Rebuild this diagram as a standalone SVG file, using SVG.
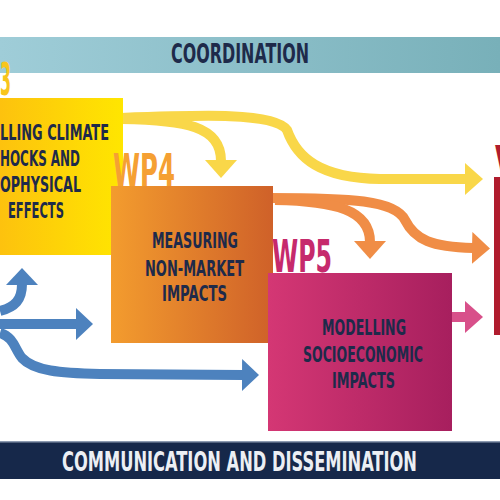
<svg xmlns="http://www.w3.org/2000/svg" width="500" height="500" viewBox="0 0 500 500">
<defs>
<linearGradient id="gCoord" x1="0" x2="1" y1="0" y2="0"><stop offset="0" stop-color="#9fcdd8"/><stop offset="1" stop-color="#78b0b9"/></linearGradient>
<linearGradient id="gWp3" x1="0" x2="1" y1="0" y2="0"><stop offset="0" stop-color="#fdc20e"/><stop offset="1" stop-color="#ffe600"/></linearGradient>
<linearGradient id="gWp4" x1="0" x2="1" y1="0" y2="0"><stop offset="0" stop-color="#f39c2e"/><stop offset="1" stop-color="#cf6129"/></linearGradient>
<linearGradient id="gWp5" x1="0" x2="1" y1="0" y2="0"><stop offset="0" stop-color="#d43774"/><stop offset="1" stop-color="#a71f5e"/></linearGradient>
<marker id="mY" markerUnits="userSpaceOnUse" markerWidth="20" markerHeight="34" refX="1" refY="16" orient="auto"><path d="M0,0 L18,16 L0,32 z" fill="#f9d749"/></marker>
<marker id="mO" markerUnits="userSpaceOnUse" markerWidth="20" markerHeight="34" refX="1" refY="16" orient="auto"><path d="M0,0 L18,16 L0,32 z" fill="#f08d46"/></marker>
<marker id="mP" markerUnits="userSpaceOnUse" markerWidth="20" markerHeight="34" refX="1" refY="16" orient="auto"><path d="M0,0 L18,16 L0,32 z" fill="#d8508a"/></marker>
<marker id="mB" markerUnits="userSpaceOnUse" markerWidth="20" markerHeight="34" refX="1" refY="16" orient="auto"><path d="M0,0 L17,16 L0,32 z" fill="#4d82be"/></marker>
</defs>
<style>
.t{font-family:"DejaVu Sans Condensed","Liberation Sans Narrow","Liberation Sans",sans-serif;font-weight:bold;fill:#1e2a4a}
.lbl{font-family:"DejaVu Sans Condensed","Liberation Sans Narrow","Liberation Sans",sans-serif;font-weight:bold}
.c{fill:none;stroke-width:10;stroke-linecap:butt}
.y{stroke:#f9d749;marker-end:url(#mY)}
.o{stroke:#f08d46;marker-end:url(#mO)}
.p{stroke:#d8508a;marker-end:url(#mP)}
.b{stroke:#4d82be;marker-end:url(#mB)}
</style>
<rect width="500" height="500" fill="#ffffff"/>
<g id="coordination">
<rect x="0" y="37" width="500" height="36" fill="url(#gCoord)"/>
<text class="t" x="171" y="63" font-size="27" textLength="138" lengthAdjust="spacingAndGlyphs">COORDINATION</text>
</g>
<g id="communication">
<rect x="0" y="441" width="500" height="38" fill="#16284a"/>
<rect x="0" y="441" width="500" height="1.5" fill="#8c9ab0"/>
<text class="lbl" x="62" y="471" font-size="26" fill="#eceff4" textLength="355" lengthAdjust="spacingAndGlyphs">COMMUNICATION AND DISSEMINATION</text>
</g>
<g id="connectors">
<path class="c y" d="M118,118 C200,115 275,112 287,130 C297,158 320,178 380,179 L466,179"/>
<path class="c y" d="M122,119 C185,120 221,126 221,161"/>
<path class="c o" d="M270,198 C350,198 395,200 405,220 C415,240 432,247 473,248"/>
<path class="c o" d="M275,200 C335,201 370,210 370,242"/>
<path class="c p" d="M452,317 L466,317"/>
<path class="c b" d="M0,311 C15,307 22,300 22,284"/>
<path class="c b" d="M0,324 L77,324"/>
<path class="c b" d="M0,333 C14,337 15,350 22,358 C34,371 60,373 100,374 L243,375"/>
</g>
<g id="wp3">
<rect x="0" y="98" width="123" height="157" fill="url(#gWp3)"/>
<text class="lbl" x="0" y="95" font-size="44" fill="#f8c51c" textLength="11" lengthAdjust="spacingAndGlyphs">3</text>
<text class="t" x="0" y="140" font-size="21" textLength="109" lengthAdjust="spacingAndGlyphs">LLING CLIMATE</text>
<text class="t" x="0" y="166" font-size="21" textLength="80" lengthAdjust="spacingAndGlyphs">HOCKS AND</text>
<text class="t" x="0" y="192" font-size="21" textLength="81" lengthAdjust="spacingAndGlyphs">OPHYSICAL</text>
<text class="t" x="8" y="218" font-size="21" textLength="56" lengthAdjust="spacingAndGlyphs">EFFECTS</text>
</g>
<g id="wp4">
<rect x="111" y="186" width="162" height="157" fill="url(#gWp4)"/>
<text class="lbl" x="113" y="186" font-size="45" fill="#f5a033" textLength="62" lengthAdjust="spacingAndGlyphs">WP4</text>
<text class="t" x="152" y="248" font-size="22" textLength="86" lengthAdjust="spacingAndGlyphs">MEASURING</text>
<text class="t" x="145" y="276" font-size="22" textLength="99" lengthAdjust="spacingAndGlyphs">NON-MARKET</text>
<text class="t" x="162" y="301" font-size="22" textLength="65" lengthAdjust="spacingAndGlyphs">IMPACTS</text>
</g>
<g id="wp5">
<rect x="268" y="273" width="184" height="158" fill="url(#gWp5)"/>
<text class="lbl" x="272" y="272" font-size="44" fill="#c62a6c" textLength="60" lengthAdjust="spacingAndGlyphs">WP5</text>
<text class="t" x="322" y="335" font-size="22" textLength="84" lengthAdjust="spacingAndGlyphs">MODELLING</text>
<text class="t" x="303" y="362" font-size="22" textLength="120" lengthAdjust="spacingAndGlyphs">SOCIOECONOMIC</text>
<text class="t" x="332" y="388" font-size="22" textLength="63" lengthAdjust="spacingAndGlyphs">IMPACTS</text>
</g>
<g id="wp6">
<rect x="494" y="177" width="10" height="158" fill="#b01c2e"/>
<text class="lbl" x="494" y="176" font-size="42" fill="#b01c2e">W</text>
</g>
</svg>
